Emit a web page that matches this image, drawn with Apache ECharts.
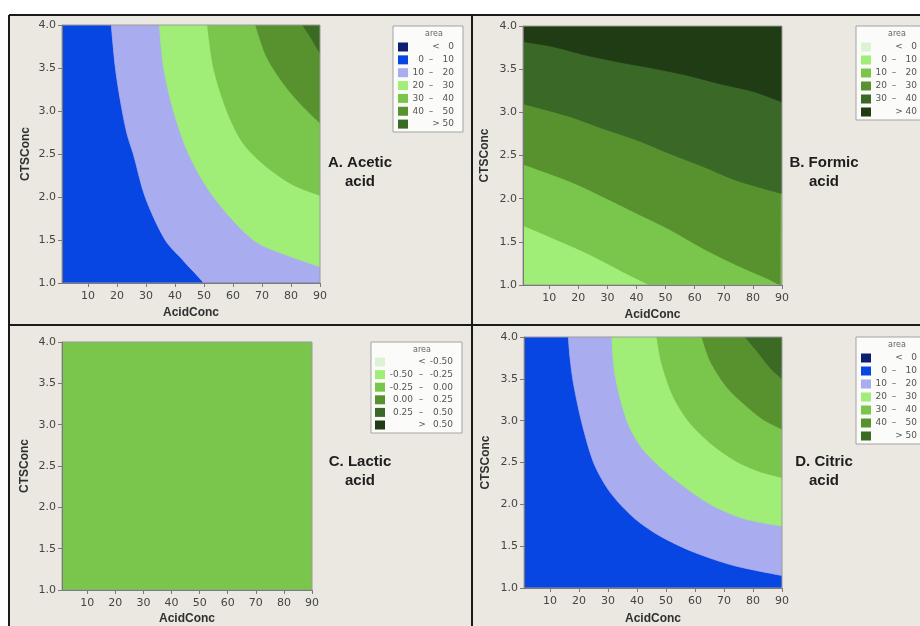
<!DOCTYPE html>
<html>
<head>
<meta charset="utf-8">
<script src="https://cdn.jsdelivr.net/npm/echarts@6/dist/echarts.min.js"></script>
<style>
  html, body { margin: 0; padding: 0; background: #ffffff; }
  #chart { width: 920px; height: 626px; }
</style>
</head>
<body>
<div id="chart"></div>
<script>
// Axis ranges and tick labels (shared by all four contour panels)
const acidRange = [1, 90];
const ctsRange = [1, 4];
const acidTicks = [10, 20, 30, 40, 50, 60, 70, 80, 90];
const ctsTicks = [1.0, 1.5, 2.0, 2.5, 3.0, 3.5, 4.0];

// Contour levels of the response "area" for each acid
const aceticLevels = [0, 10, 20, 30, 40, 50];
const formicLevels = [0, 10, 20, 30, 40];
const lacticLevels = [-0.5, -0.25, 0, 0.25, 0.5];
const citricLevels = [0, 10, 20, 30, 40, 50];

// Contour lines as [AcidConc, CTSConc]; the band above each line reaches the next level
const acetic10 = [[18.0, 4.0], [19.4, 3.51], [21.1, 3.13], [23.4, 2.74], [25.7, 2.49], [29.7, 2.0], [36.6, 1.5], [42.9, 1.26], [50.1, 1.0], [90, 1.0]];
const acetic20 = [[34.6, 4.0], [36.1, 3.5], [39.5, 3.0], [44.7, 2.5], [53.3, 2.0], [67.0, 1.5], [78.0, 1.33], [90, 1.19]];
const acetic30 = [[51.2, 4.0], [53.3, 3.5], [57.9, 3.0], [63.6, 2.62], [71.6, 2.35], [80.8, 2.14], [90, 2.02]];
const acetic40 = [[67.8, 4.0], [71.6, 3.63], [77.4, 3.32], [83.1, 3.09], [90, 2.86]];
const acetic50 = [[84.0, 4.0], [87.1, 3.84], [90, 3.67]];

const formic10 = [[1, 1.69], [11.5, 1.54], [22.9, 1.37], [34.4, 1.17], [44.7, 1.0], [90, 1.0]];
const formic20 = [[1, 2.40], [17.2, 2.20], [28.7, 2.02], [40.1, 1.83], [51.6, 1.64], [63.1, 1.42], [74.5, 1.23], [86.0, 1.06], [89.4, 1.0], [90, 1.0]];
const formic30 = [[1, 3.10], [17.2, 2.95], [28.7, 2.81], [40.1, 2.68], [51.6, 2.52], [63.1, 2.37], [74.5, 2.21], [90, 2.06]];
const formic40 = [[1, 3.82], [11.5, 3.76], [22.9, 3.66], [34.4, 3.58], [45.9, 3.51], [57.3, 3.43], [68.8, 3.33], [80.3, 3.24], [90, 3.12]];

const citric10 = [[16.3, 4.0], [16.9, 3.75], [18.1, 3.44], [21.0, 2.97], [25.0, 2.50], [29.6, 2.20], [34.2, 2.0], [39.9, 1.81], [48.0, 1.62], [59.5, 1.43], [73.3, 1.27], [90, 1.15]];
const citric20 = [[31.3, 4.0], [32.4, 3.55], [36.5, 3.0], [41.1, 2.70], [46.3, 2.50], [53.7, 2.28], [65.3, 2.0], [76.8, 1.83], [90, 1.74]];
const citric30 = [[46.8, 4.0], [48.6, 3.67], [52.6, 3.28], [58.3, 2.97], [66.4, 2.70], [74.5, 2.51], [82.5, 2.39], [90, 2.32]];
const citric40 = [[62.4, 4.0], [65.3, 3.71], [71.0, 3.40], [77.9, 3.17], [83.7, 3.01], [90, 2.90]];
const citric50 = [[77.3, 4.0], [81.4, 3.83], [86.0, 3.63], [90, 3.50]];

// Lower edge of the plotted region: the lowest band fills from here upward
const plotFloor = [[acidRange[0], ctsRange[0]], [acidRange[1], ctsRange[0]]];

// Band colour scales (one colour per legend row)
const blueGreen = ['#0c1f73', '#0846e4', '#a9adf0', '#a0ee78', '#7ac64c', '#57922f', '#3a6a24'];
const greens = ['#dcf4d4', '#a0ee78', '#7ac64c', '#57922f', '#396827', '#1f3c15'];

const panels = [
  { grid: { left: 62, top: 25, width: 258, height: 258 }, gapX: 24, gapY: 30,
    levels: aceticLevels, palette: blueGreen, base: 1,
    contours: [acetic10, acetic20, acetic30, acetic40, acetic50],
    title: 'A. Acetic\nacid', titleAt: [360, 172.5],
    legend: { x: 393, y: 26, w: 70, h: 106, row0: 21, step: 12.85, sw: 5, lo: 31, dash: 38, sym: 43, hi: 61, head: 41 },
    fmt: v => String(v) },
  { grid: { left: 523, top: 26, width: 259, height: 259 }, gapX: 24, gapY: 32,
    levels: formicLevels, palette: greens, base: 1,
    contours: [formic10, formic20, formic30, formic40],
    title: 'B. Formic\nacid', titleAt: [824, 172.5],
    legend: { x: 856, y: 26, w: 70, h: 94, row0: 21, step: 13, sw: 5, lo: 31, dash: 38, sym: 43, hi: 61, head: 41 },
    fmt: v => String(v) },
  { grid: { left: 62, top: 342, width: 250, height: 251 }, gapX: 23, gapY: 31,
    levels: lacticLevels, palette: greens, base: 2,
    contours: [],
    title: 'C. Lactic\nacid', titleAt: [360, 471],
    legend: { x: 371, y: 342, w: 91, h: 91, row0: 20, step: 12.6, sw: 4, lo: 42, dash: 50, sym: 51, hi: 82, head: 51 },
    fmt: v => v.toFixed(2) },
  { grid: { left: 524, top: 337, width: 258, height: 258 }, gapX: 25, gapY: 32,
    levels: citricLevels, palette: blueGreen, base: 1,
    contours: [citric10, citric20, citric30, citric40, citric50],
    title: 'D. Citric\nacid', titleAt: [824, 471],
    legend: { x: 856, y: 337, w: 70, h: 107, row0: 21, step: 13, sw: 5, lo: 31, dash: 38, sym: 43, hi: 61, head: 41 },
    fmt: v => String(v) }
];

const axisGrey = '#7a7a7a';
const tickFont = { fontFamily: 'DejaVu Sans', fontSize: 11, color: '#444' };
const nameFont = { fontFamily: 'Liberation Sans', fontWeight: 'bold', fontSize: 12, color: '#303030' };

function bandSeries(idx, line, color, smooth) {
  return {
    type: 'line', xAxisIndex: idx, yAxisIndex: idx,
    data: line, symbol: 'none', showSymbol: false, smooth: smooth,
    lineStyle: { width: 0.8, color: color },
    areaStyle: { color: color, opacity: 1, origin: 'end' },
    silent: true, animation: false, clip: true, z: 2
  };
}

// A contour that runs into the bottom edge continues along it; the curved part
// and the straight run along the edge are two overlapping fills of the same band.
function contourSeries(idx, line, color) {
  const k = line.findIndex(pt => pt[1] === ctsRange[0]);
  if (k >= 1 && k < line.length - 1) {
    return [bandSeries(idx, line.slice(0, k + 1), color, 0.3),
            bandSeries(idx, line.slice(k - 1), color, false)];
  }
  return [bandSeries(idx, line, color, 0.3)];
}

const grids = [], xAxes = [], yAxes = [], series = [], graphics = [];

// panel background
graphics.push({ type: 'rect', z: -10, silent: true,
  shape: { x: 9, y: 15, width: 911, height: 611 }, style: { fill: '#ebe8e2' } });

panels.forEach((p, i) => {
  grids.push(Object.assign({ show: true, borderColor: '#9a9a9a', borderWidth: 1,
    backgroundColor: 'transparent', z: 3, containLabel: false }, p.grid));

  xAxes.push({
    type: 'value', gridIndex: i, min: acidRange[0], max: acidRange[1],
    name: 'AcidConc', nameLocation: 'middle', nameGap: p.gapX, nameTextStyle: nameFont,
    axisLine: { show: true, onZero: false, lineStyle: { color: axisGrey, width: 1 } },
    axisTick: { show: true, length: 4, customValues: acidTicks, lineStyle: { color: axisGrey } },
    axisLabel: Object.assign({ customValues: acidTicks, margin: 8 }, tickFont),
    splitLine: { show: false }, z: 5
  });
  yAxes.push({
    type: 'value', gridIndex: i, min: ctsRange[0], max: ctsRange[1],
    name: 'CTSConc', nameLocation: 'middle', nameGap: p.gapY, nameTextStyle: nameFont,
    axisLine: { show: true, onZero: false, lineStyle: { color: axisGrey, width: 1 } },
    axisTick: { show: true, length: 4, customValues: ctsTicks, lineStyle: { color: axisGrey } },
    axisLabel: Object.assign({ customValues: ctsTicks, margin: 6, formatter: v => Number(v).toFixed(1) }, tickFont),
    splitLine: { show: false }, z: 5
  });

  // lowest band covers the whole plot, each contour adds the next band on top
  series.push(bandSeries(i, plotFloor, p.palette[p.base], false));
  p.contours.forEach((c, j) => series.push(...contourSeries(i, c, p.palette[p.base + 1 + j])));

  // panel caption
  graphics.push({ type: 'text', z: 20, silent: true,
    style: { text: p.title, x: p.titleAt[0], y: p.titleAt[1], textAlign: 'center', textVerticalAlign: 'middle',
      font: 'bold 15px "Liberation Sans", Arial, sans-serif', fill: '#1e1e1e', lineHeight: 19 } });

  // colour key
  const L = p.legend;
  const kids = [
    { type: 'rect', shape: { x: 0, y: 0, width: L.w, height: L.h },
      style: { fill: '#fbfbfa', stroke: '#a3a3a3', lineWidth: 1 } },
    { type: 'text', style: { text: 'area', x: L.head, y: 8, textAlign: 'center', textVerticalAlign: 'middle',
      font: '8px "DejaVu Sans"', fill: '#666' } }
  ];
  const n = p.levels.length;
  const small = '9px "DejaVu Sans"';
  for (let r = 0; r <= n; r++) {
    const cy = L.row0 + r * L.step;
    kids.push({ type: 'rect', shape: { x: L.sw, y: cy - 4.5, width: 10, height: 9 },
      style: { fill: p.palette[r] } });
    if (r === 0 || r === n) {
      kids.push({ type: 'text', style: { text: r === 0 ? '<' : '>', x: L.sym, y: cy, textAlign: 'center',
        textVerticalAlign: 'middle', font: small, fill: '#555' } });
      kids.push({ type: 'text', style: { text: p.fmt(p.levels[r === 0 ? 0 : n - 1]), x: L.hi, y: cy, textAlign: 'right',
        textVerticalAlign: 'middle', font: small, fill: '#555' } });
    } else {
      kids.push({ type: 'text', style: { text: p.fmt(p.levels[r - 1]), x: L.lo, y: cy, textAlign: 'right',
        textVerticalAlign: 'middle', font: small, fill: '#555' } });
      kids.push({ type: 'text', style: { text: '–', x: L.dash, y: cy, textAlign: 'center',
        textVerticalAlign: 'middle', font: small, fill: '#555' } });
      kids.push({ type: 'text', style: { text: p.fmt(p.levels[r]), x: L.hi, y: cy, textAlign: 'right',
        textVerticalAlign: 'middle', font: small, fill: '#555' } });
    }
  }
  graphics.push({ type: 'group', x: L.x, y: L.y, z: 20, silent: true, children: kids });
});

// frame lines separating the four panels
const frame = [[9, 15, 920, 15], [9, 15, 9, 626], [472, 15, 472, 626], [9, 325, 920, 325]];
frame.forEach(f => graphics.push({ type: 'line', z: 30, silent: true,
  shape: { x1: f[0], y1: f[1], x2: f[2], y2: f[3] }, style: { stroke: '#1a1a1a', lineWidth: 2 } }));

const chart = echarts.init(document.getElementById('chart'), null, { renderer: 'canvas' });
chart.setOption({
  animation: false,
  backgroundColor: '#ffffff',
  grid: grids,
  xAxis: xAxes,
  yAxis: yAxes,
  series: series,
  graphic: graphics
});
</script>
</body>
</html>
